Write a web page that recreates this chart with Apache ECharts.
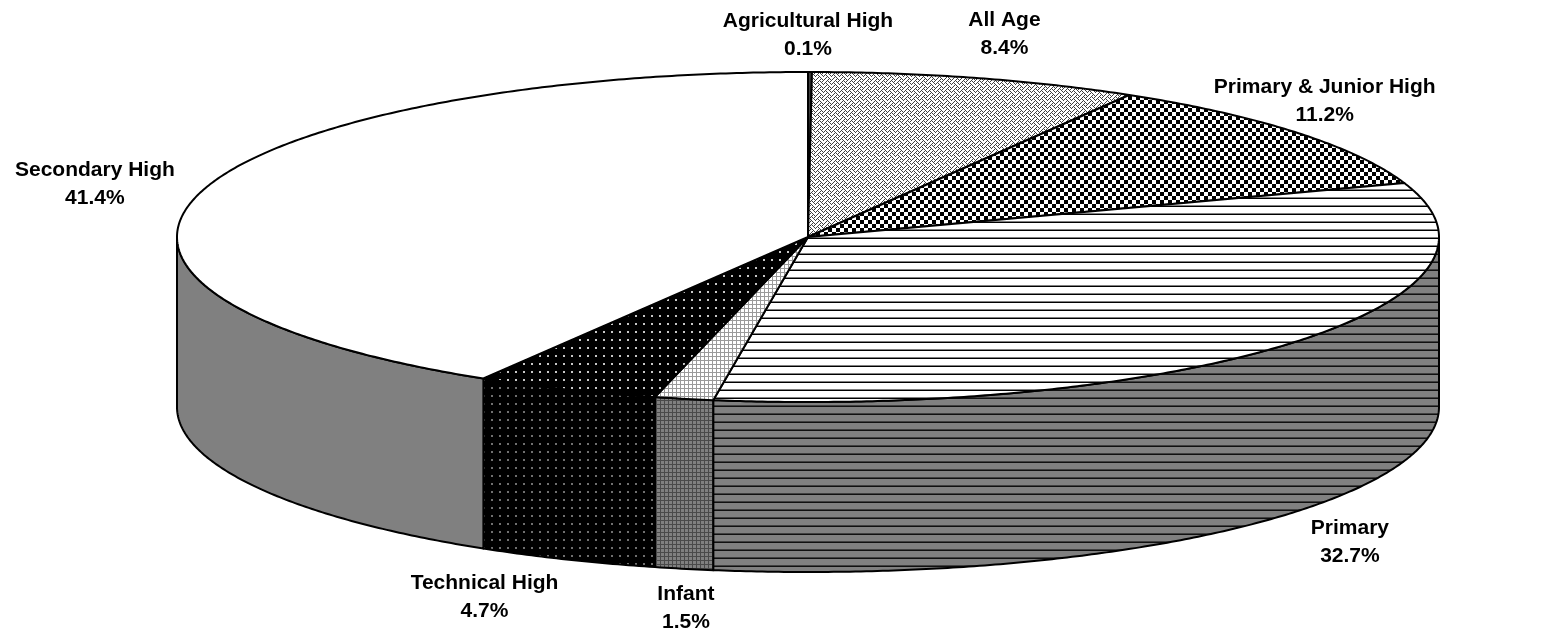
<!DOCTYPE html>
<html><head><meta charset="utf-8">
<script src="https://cdn.jsdelivr.net/npm/echarts@6/dist/echarts.min.js"></script>
<style>html,body{margin:0;padding:0;background:#fff}#c{width:1543px;height:634px}</style>
</head><body><div id="c"></div>
<script>
// ---- data ----
const categories = ['Agricultural High','All Age','Primary & Junior High','Primary','Infant','Technical High','Secondary High'];
const values = [0.1, 8.4, 11.2, 32.7, 1.5, 4.7, 41.4];
// ---- label nudges (px) from rim point at mid-angle ----
const labelNudge = [[-2,-37],[28,-44],[28,-31],[57,30],[2,39],[-82,38],[-105,-9]];

// ---- layout ----
const CX = 808, CY = 237, RX = 631, RY = 165, DEPTH = 170;

// ---- patterns ----
function tile(w, h, draw) {
  const c = document.createElement('canvas'); c.width = w; c.height = h;
  const g = c.getContext('2d'); draw(g); return {image: c, repeat: 'repeat'};
}
function bits(rows, fg, bg) {
  return tile(8, 8, g => {
    g.fillStyle = bg; g.fillRect(0,0,8,8); g.fillStyle = fg;
    rows.forEach((r, y) => { for (let x = 0; x < 8; x++) if (r & (0x80 >> x)) g.fillRect(x, y, 1, 1); });
  });
}
const weaveRows = [0x11,0x2A,0x44,0xA2,0x11,0x28,0x44,0x8A];
const topFill = [
  '#404040',
  bits(weaveRows, '#404040', '#ffffff'),
  tile(8,8,g=>{g.fillStyle='#fff';g.fillRect(0,0,8,8);g.fillStyle='#000';g.fillRect(0,0,4,4);g.fillRect(4,4,4,4);}),
  tile(8,8,g=>{g.fillStyle='#fff';g.fillRect(0,0,8,8);g.fillStyle='#808080';g.fillRect(0,5,8,1);g.fillStyle='#000';g.fillRect(0,6,8,1);}),
  tile(4,4,g=>{g.fillStyle='#fff';g.fillRect(0,0,4,4);g.fillStyle='#9a9a9a';g.fillRect(0,0,4,1);g.fillRect(0,0,1,4);}),
  tile(8,8,g=>{g.fillStyle='#000';g.fillRect(0,0,8,8);g.fillStyle='#c8c8c8';g.fillRect(3,3,2,2);}),
  '#ffffff'
];
const sideFill = [
  '#202020',
  bits(weaveRows, '#202020', '#808080'),
  tile(8,8,g=>{g.fillStyle='#808080';g.fillRect(0,0,8,8);g.fillStyle='#000';g.fillRect(0,0,4,4);g.fillRect(4,4,4,4);}),
  tile(8,8,g=>{g.fillStyle='#808080';g.fillRect(0,0,8,8);g.fillStyle='#404040';g.fillRect(0,5,8,1);g.fillStyle='#101010';g.fillRect(0,6,8,1);}),
  tile(4,4,g=>{g.fillStyle='#808080';g.fillRect(0,0,4,4);g.fillStyle='#4a4a4a';g.fillRect(0,0,4,1);g.fillRect(0,0,1,4);}),
  tile(8,8,g=>{g.fillStyle='#000';g.fillRect(0,0,8,8);g.fillStyle='#707070';g.fillRect(3,3,2,2);}),
  '#808080'
];

const total = values.reduce((a,b)=>a+b,0);
const starts = []; { let acc = 0; values.forEach(v => { starts.push(acc/total*360); acc += v; }); }
const rad = d => d*Math.PI/180;
const pt = (a, dy) => [CX + RX*Math.sin(rad(a)), CY - RY*Math.cos(rad(a)) + dy];
function arc(a1, a2, dy) {
  const n = Math.max(2, Math.ceil(Math.abs(a2-a1)/0.5));
  const out = [];
  for (let k = 0; k <= n; k++) out.push(pt(a1 + (a2-a1)*k/n, dy));
  return out;
}

function renderItem(params, api) {
  const i = params.dataIndex;
  const a1 = starts[i], a2 = a1 + api.value(0)/total*360;
  const children = [];
  const b1 = Math.max(a1, 90), b2 = Math.min(a2, 270);
  if (b1 < b2) {
    const pts = arc(b1, b2, 0).concat(arc(b2, b1, DEPTH));
    children.push({type:'polygon', shape:{points:pts}, z2:1,
      style:{fill: sideFill[i], stroke:'#000', lineWidth:2, lineJoin:'round'}});
  }
  const topPts = [[CX,CY]].concat(arc(a1, a2, 0));
  children.push({type:'polygon', shape:{points:topPts}, z2:2,
    style:{fill: topFill[i], stroke:'#000', lineWidth:2, lineJoin:'round'}});
  const mid = (a1+a2)/2;
  const cosm = Math.cos(rad(mid));
  const base = pt(mid, cosm < 0 ? DEPTH : 0);
  children.push({type:'text', x: base[0] + labelNudge[i][0], y: base[1] + labelNudge[i][1], z2:5,
    style:{text: categories[i] + '\n' + api.value(0).toFixed(1) + '%',
      fontFamily:'"Liberation Sans", Arial, sans-serif', fontWeight:'bold', fontSize:21,
      lineHeight:28, fill:'#000', align:'center', verticalAlign:'middle'}});
  return {type:'group', children};
}

const chart = echarts.init(document.getElementById('c'), null, {renderer:'canvas'});
chart.setOption({
  animation:false,
  backgroundColor:'#fff',
  series:[{
    type:'custom', coordinateSystem:'none',
    data: values.map((v,i)=>({name:categories[i], value:[v]})),
    renderItem
  }]
});
</script></body></html>
